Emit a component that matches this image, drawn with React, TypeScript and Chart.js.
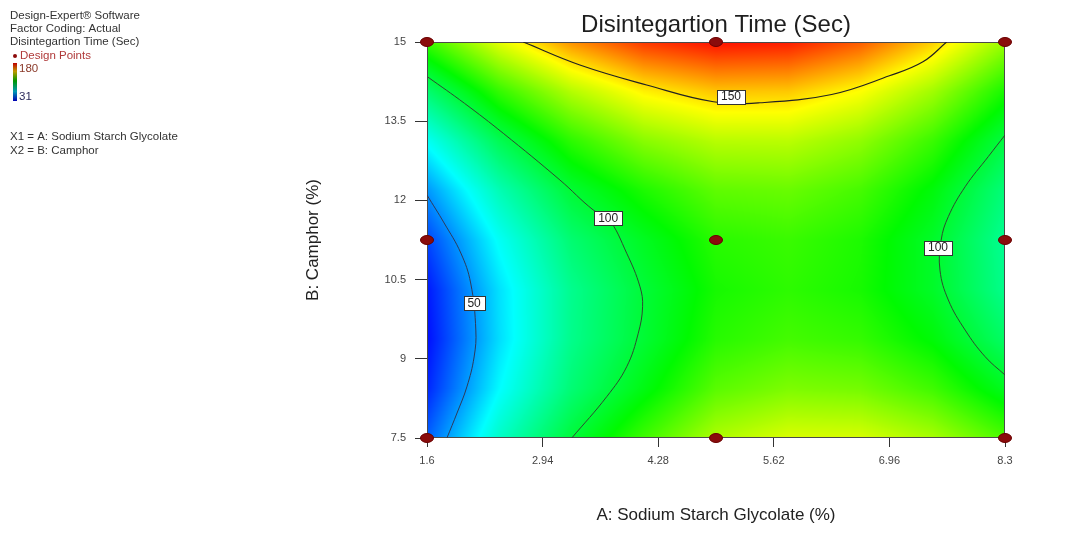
import React, { useEffect, useRef } from 'react';
import { Chart, registerables } from 'chart.js';

Chart.register(...registerables);

const FONT = "'Liberation Sans', Arial, sans-serif";

// Axis ticks
const X_TICKS = [1.6, 2.94, 4.28, 5.62, 6.96, 8.3];
const Y_TICKS = [7.5, 9, 10.5, 12, 13.5, 15];

// Colour scale range (legend)
const SCALE_MIN = 31;
const SCALE_MAX = 180;

// Response grid read from the colour field: columns = A (Sodium Starch Glycolate), rows = B (Camphor)
const GRID_A = [1.6, 2.4375, 3.275, 4.1125, 4.95, 5.7875, 6.625, 7.4625, 8.3];
const GRID_B = [7.5, 8.4375, 9.375, 10.3125, 11.25, 12.1875, 13.125, 14.0625, 15];
const TIME_GRID = [
  [44.9, 77.4, 100.5, 119.0, 135.4, 141.7, 141.4, 134.5, 121.1],
  [36.3, 67.8, 91.0, 107.0, 122.9, 128.2, 126.9, 119.1, 104.7],
  [32.8, 63.3, 87.2, 101.5, 115.5, 119.8, 117.5, 108.7, 93.4],
  [34.3, 63.9, 86.8, 100.8, 113.1, 116.5, 113.2, 103.5, 87.1],
  [41.0, 69.6, 91.6, 104.5, 115.9, 118.3, 114.1, 103.3, 86.0],
  [52.8, 80.4, 101.4, 114.0, 123.8, 125.2, 120.0, 108.3, 90.0],
  [69.7, 96.3, 116.3, 129.8, 136.8, 137.2, 131.0, 118.3, 99.1],
  [91.6, 117.3, 136.3, 148.9, 154.8, 154.3, 147.1, 133.5, 113.2],
  [118.7, 143.4, 161.5, 173.0, 178.0, 176.5, 168.4, 153.7, 132.5],
];

// Design points
const DESIGN_A = [1.6, 4.95, 8.3, 1.6, 4.95, 8.3, 1.6, 4.95, 8.3];
const DESIGN_B = [7.5, 7.5, 7.5, 11.25, 11.25, 11.25, 15, 15, 15];

// Contour lines (A, B)
const C50_A = [1.6, 1.798, 1.992, 2.106, 2.166, 2.146, 2.062, 1.948, 1.831];
const C50_B = [12.101, 11.573, 11.003, 10.436, 9.544, 9.034, 8.468, 7.973, 7.5];

const C100L_A = [1.61, 2.035, 2.484, 3.141, 3.526, 3.7, 3.915, 4.069, 4.099, 4.049, 3.915, 3.684, 3.278];
const C100L_B = [14.336, 13.838, 13.271, 12.386, 11.82, 11.663, 10.999, 10.365, 9.986, 9.484, 8.85, 8.284, 7.5];

const C100R_A = [8.3, 8.106, 7.838, 7.643, 7.56, 7.546, 7.643, 7.838, 8.069, 8.3];
const C100R_B = [13.238, 12.829, 12.259, 11.693, 11.25, 10.68, 10.114, 9.544, 9.041, 8.693];

const C150_A = [2.716, 3.372, 4.146, 4.92, 5.459, 6.29, 6.96, 7.349, 7.623];
const C150_B = [15.0, 14.565, 14.186, 13.868, 13.849, 14.006, 14.36, 14.625, 15.0];

// Contour labels
const LABEL_TEXT = ['50', '100', '100', '150'];
const LABEL_A = [2.146, 3.7, 7.523, 5.124];
const LABEL_B = [10.058, 11.66, 11.105, 13.965];

const INFO_LINES = ['Design-Expert® Software', 'Factor Coding: Actual', 'Disintegartion Time (Sec)'];
const FACTOR_LINES = ['X1 = A: Sodium Starch Glycolate', 'X2 = B: Camphor'];

// Colour map: blue -> cyan -> green -> yellow -> red
const CMAP_POS = [0, 0.25, 0.53, 0.78, 1];
const CMAP: number[][] = [
  [0, 0, 255],
  [0, 255, 255],
  [0, 250, 0],
  [255, 255, 0],
  [255, 0, 0],
];

function colorFor(v: number): number[] {
  let t = (v - SCALE_MIN) / (SCALE_MAX - SCALE_MIN);
  t = Math.max(0, Math.min(1, t));
  let seg = 0;
  while (seg < CMAP_POS.length - 2 && t > CMAP_POS[seg + 1]) seg++;
  const f = (t - CMAP_POS[seg]) / (CMAP_POS[seg + 1] - CMAP_POS[seg]);
  const c0 = CMAP[seg];
  const c1 = CMAP[seg + 1];
  return [c0[0] + (c1[0] - c0[0]) * f, c0[1] + (c1[1] - c0[1]) * f, c0[2] + (c1[2] - c0[2]) * f];
}

function locate(arr: number[], v: number): number {
  let i = 0;
  while (i < arr.length - 2 && v > arr[i + 1]) i++;
  return i;
}

function sample(a: number, b: number): number {
  const i = locate(GRID_A, a);
  const j = locate(GRID_B, b);
  const fa = Math.max(0, Math.min(1, (a - GRID_A[i]) / (GRID_A[i + 1] - GRID_A[i])));
  const fb = Math.max(0, Math.min(1, (b - GRID_B[j]) / (GRID_B[j + 1] - GRID_B[j])));
  const v00 = TIME_GRID[j][i];
  const v10 = TIME_GRID[j][i + 1];
  const v01 = TIME_GRID[j + 1][i];
  const v11 = TIME_GRID[j + 1][i + 1];
  return v00 * (1 - fa) * (1 - fb) + v10 * fa * (1 - fb) + v01 * (1 - fa) * fb + v11 * fa * fb;
}

const heatmapPlugin = {
  id: 'heatmap',
  beforeDraw(chart: any) {
    const { ctx, chartArea, scales } = chart;
    const xs = scales.x;
    const ys = scales.y;
    const left = Math.round(chartArea.left);
    const top = Math.round(chartArea.top);
    const w = Math.round(chartArea.right) - left;
    const h = Math.round(chartArea.bottom) - top;
    const off = document.createElement('canvas');
    off.width = w;
    off.height = h;
    const octx = off.getContext('2d')!;
    const img = octx.createImageData(w, h);
    for (let py = 0; py < h; py++) {
      const b = ys.getValueForPixel(top + py + 0.5);
      for (let px = 0; px < w; px++) {
        const a = xs.getValueForPixel(left + px + 0.5);
        const c = colorFor(sample(a, b));
        const k = (py * w + px) * 4;
        img.data[k] = c[0];
        img.data[k + 1] = c[1];
        img.data[k + 2] = c[2];
        img.data[k + 3] = 255;
      }
    }
    octx.putImageData(img, 0, 0);
    ctx.save();
    ctx.drawImage(off, left, top, w, h);
    ctx.restore();
  },
  beforeDatasetsDraw(chart: any) {
    const { ctx, chartArea } = chart;
    ctx.save();
    ctx.strokeStyle = '#4a4a4a';
    ctx.lineWidth = 1;
    ctx.strokeRect(
      Math.round(chartArea.left) + 0.5,
      Math.round(chartArea.top) + 0.5,
      Math.round(chartArea.right) - Math.round(chartArea.left) - 1,
      Math.round(chartArea.bottom) - Math.round(chartArea.top) - 1
    );
    ctx.restore();
  },
  afterDatasetsDraw(chart: any) {
    const { ctx, scales } = chart;
    ctx.save();
    ctx.font = `12px ${FONT}`;
    ctx.textAlign = 'center';
    ctx.textBaseline = 'middle';
    LABEL_TEXT.forEach((t, i) => {
      const px = scales.x.getPixelForValue(LABEL_A[i]);
      const py = scales.y.getPixelForValue(LABEL_B[i]);
      const tw = ctx.measureText(t).width;
      const bw = Math.round(tw + 8);
      const bh = 14;
      const x0 = Math.round(px - bw / 2) + 0.5;
      const y0 = Math.round(py - bh / 2) + 0.5;
      ctx.fillStyle = '#ffffff';
      ctx.fillRect(x0, y0, bw, bh);
      ctx.strokeStyle = '#333333';
      ctx.lineWidth = 1;
      ctx.strokeRect(x0, y0, bw, bh);
      ctx.fillStyle = '#222222';
      ctx.fillText(t, px, py + 0.5);
    });
    ctx.restore();
  },
  afterDraw(chart: any) {
    const { ctx } = chart;
    ctx.save();
    ctx.font = `11.5px ${FONT}`;
    ctx.textAlign = 'left';
    ctx.textBaseline = 'middle';
    ctx.fillStyle = '#333333';
    INFO_LINES.forEach((t, i) => ctx.fillText(t, 10, 16 + i * 13));
    // design points legend
    ctx.fillStyle = '#8c0a0a';
    ctx.beginPath();
    ctx.arc(15, 56, 2, 0, Math.PI * 2);
    ctx.fill();
    ctx.fillStyle = '#b03a3a';
    ctx.fillText('Design Points', 20, 56);
    // colour bar
    const g = ctx.createLinearGradient(0, 63, 0, 101);
    CMAP.forEach((c, i) => {
      g.addColorStop(1 - CMAP_POS[i], `rgb(${c[0] * 0.75},${c[1] * 0.6},${c[2] * 0.7})`);
    });
    ctx.fillStyle = g;
    ctx.fillRect(13, 63, 4, 38);
    ctx.fillStyle = '#8b3a2a';
    ctx.fillText(String(SCALE_MAX), 19, 69);
    ctx.fillStyle = '#2a2a5a';
    ctx.fillText(String(SCALE_MIN), 19, 97);
    ctx.fillStyle = '#333333';
    FACTOR_LINES.forEach((t, i) => ctx.fillText(t, 10, 137 + i * 14));
    ctx.restore();
  },
};

function makeMarker(): HTMLCanvasElement {
  const c = document.createElement('canvas');
  c.width = 14;
  c.height = 10;
  const x = c.getContext('2d')!;
  x.fillStyle = '#8a0c0c';
  x.beginPath();
  x.ellipse(7, 5, 6.5, 4.5, 0, 0, Math.PI * 2);
  x.fill();
  x.strokeStyle = '#6a0000';
  x.lineWidth = 1;
  x.stroke();
  return c;
}

function contourDataset(as: number[], bs: number[], color: string, width: number) {
  return {
    type: 'scatter' as const,
    data: as.map((a, i) => ({ x: a, y: bs[i] })),
    showLine: true,
    borderColor: color,
    borderWidth: width,
    pointRadius: 0,
    tension: 0.4,
    fill: false,
  };
}

export default function App() {
  const ref = useRef<HTMLCanvasElement>(null);
  useEffect(() => {
    const marker = makeMarker();
    const tickFont = { family: FONT, size: 11 };
    const chart = new Chart(ref.current!, {
      type: 'scatter',
      data: {
        datasets: [
          {
            data: DESIGN_A.map((a, i) => ({ x: a, y: DESIGN_B[i] })),
            pointStyle: marker as any,
            pointRadius: 6,
            clip: false as any,
            showLine: false,
          },
          contourDataset(C50_A, C50_B, '#2e3a5a', 1),
          contourDataset(C100L_A, C100L_B, '#2f4a2f', 1),
          contourDataset(C100R_A, C100R_B, '#2f4a2f', 1),
          contourDataset(C150_A, C150_B, '#222222', 1.2),
        ] as any,
      },
      options: {
        animation: false,
        responsive: false,
        events: [],
        layout: { padding: { left: 290, right: 61, top: 0, bottom: 0 } },
        plugins: {
          legend: { display: false },
          tooltip: { enabled: false },
          title: {
            display: true,
            text: 'Disintegartion Time (Sec)',
            fullSize: false,
            color: '#1e1e1e',
            font: { family: FONT, size: 24, weight: 'normal' as any },
            padding: { top: 10.6, bottom: 2.6 },
          },
        },
        scales: {
          x: {
            type: 'linear',
            min: 1.6,
            max: 8.3,
            afterBuildTicks: (s: any) => {
              s.ticks = X_TICKS.map((value) => ({ value }));
            },
            afterFit: (s: any) => {
              s.height = 104;
            },
            ticks: {
              autoSkip: false,
              maxRotation: 0,
              padding: 7,
              color: '#444444',
              font: tickFont,
              callback: (v: any) => String(v),
            },
            grid: { display: true, drawOnChartArea: false, drawTicks: true, tickLength: 9, tickColor: '#333333', tickWidth: 1 },
            border: { display: false },
            title: {
              display: true,
              text: 'A: Sodium Starch Glycolate (%)',
              color: '#222222',
              font: { family: FONT, size: 17 },
              padding: { top: 0, bottom: 16.8 },
            },
          },
          y: {
            type: 'linear',
            min: 7.5,
            max: 15,
            afterBuildTicks: (s: any) => {
              s.ticks = Y_TICKS.map((value) => ({ value }));
            },
            afterFit: (s: any) => {
              s.width = 137;
            },
            ticks: {
              autoSkip: false,
              padding: 9,
              color: '#444444',
              font: tickFont,
              callback: (v: any) => String(v),
            },
            grid: { display: true, drawOnChartArea: false, drawTicks: true, tickLength: 12, tickColor: '#333333', tickWidth: 1 },
            border: { display: false },
            title: {
              display: true,
              text: 'B: Camphor (%)',
              color: '#222222',
              font: { family: FONT, size: 17 },
              padding: { top: 12.8, bottom: 0 },
            },
          },
        },
      } as any,
      plugins: [heatmapPlugin],
    });
    return () => chart.destroy();
  }, []);
  return (
    <div style={{ position: 'fixed', left: 0, top: 0, width: 1066, height: 542, background: '#ffffff' }}>
      <canvas ref={ref} width={1066} height={542} style={{ display: 'block', width: 1066, height: 542 }} />
    </div>
  );
}
